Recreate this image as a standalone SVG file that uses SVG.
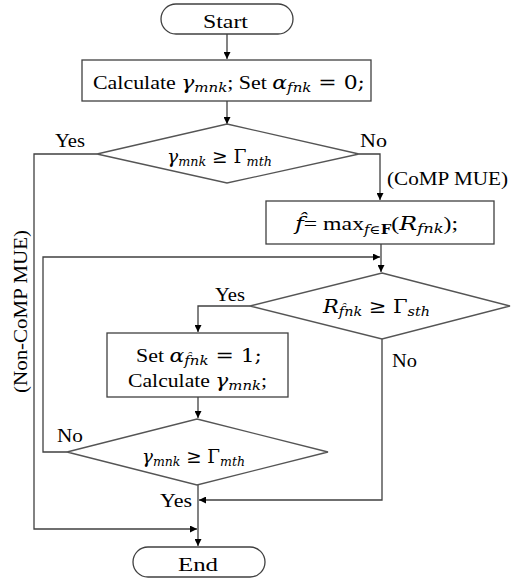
<svg xmlns="http://www.w3.org/2000/svg" width="511" height="580" viewBox="0 0 511 580">
<defs>
<marker id="arr" viewBox="0 0 10 10" refX="10" refY="5" markerWidth="7" markerHeight="7" markerUnits="userSpaceOnUse" orient="auto">
<path d="M0,0 L10,5 L0,10 z" fill="#000"/>
</marker>
<style>
.shape{fill:#fff;stroke:#404040;stroke-width:1.3}
.dia{fill:#fff;stroke:#555;stroke-width:1.3}
.conn{fill:none;stroke:#404040;stroke-width:1.3}
.txt{font-family:'Liberation Serif','Times New Roman',Tinos,'Nimbus Roman','DejaVu Serif',serif;fill:#000}
.t{font-size:19px}
.m{font-size:19px}
.mi{font-family:'DejaVu Serif',serif;font-style:italic}
.mr{font-family:'DejaVu Serif',serif}
.sub{font-size:13px}
.lab{font-size:19px}
</style>
</defs>
<rect width="511" height="580" fill="#fff"/>

<g id="connectors">
<path class="conn" d="M227,34 V59" marker-end="url(#arr)"/>
<path class="conn" d="M227,101 V124" marker-end="url(#arr)"/>
<path class="conn" d="M97,154 H34 V529 H197" marker-end="url(#arr)"/>
<path class="conn" d="M359,154 H380 V200" marker-end="url(#arr)"/>
<path class="conn" d="M381,244 V272" marker-end="url(#arr)"/>
<path class="conn" d="M67,452 H43 V257 H380" marker-end="url(#arr)"/>
<path class="conn" d="M250,306 H198 V332" marker-end="url(#arr)"/>
<path class="conn" d="M198,397 V418" marker-end="url(#arr)"/>
<path class="conn" d="M382,339 V500 H199" marker-end="url(#arr)"/>
<path class="conn" d="M198,485 V546" marker-end="url(#arr)"/>
</g>

<g class="txt">
<g id="start">
<rect class="shape" x="161" y="4" width="132" height="30" rx="15" ry="15"/>
<text class="t" x="203" y="28" textLength="45" lengthAdjust="spacingAndGlyphs">Start</text>
</g>

<g id="init">
<rect class="shape" x="82" y="60" width="289" height="41"/>
<text class="m" x="93" y="89" textLength="272" lengthAdjust="spacingAndGlyphs">Calculate <tspan class="mi">γ</tspan><tspan class="mi sub" dy="3">mnk</tspan><tspan dy="-3">; Set </tspan><tspan class="mi">α</tspan><tspan class="mi sub" dy="3">fnk</tspan><tspan class="mr" dy="-3"> = 0;</tspan></text>
</g>

<g id="decision1">
<polygon class="dia" points="227,124 359,154 227,183 97,154"/>
<text class="m" x="167" y="163" textLength="105" lengthAdjust="spacingAndGlyphs"><tspan class="mi">γ</tspan><tspan class="mi sub" dy="3">mnk</tspan><tspan class="mr" dy="-3"> ≥ Γ</tspan><tspan class="mi sub" dy="3">mth</tspan></text>
</g>

<g id="select">
<rect class="shape" x="266" y="201" width="228" height="43"/>
<text class="m" x="295" y="230" textLength="163" lengthAdjust="spacingAndGlyphs"><tspan class="mi">f̂</tspan>= max<tspan class="mi" font-size="12" dy="4">f</tspan><tspan class="mr" font-size="12">∈</tspan><tspan class="mr" font-size="12" font-weight="bold">F</tspan><tspan dy="-4">(</tspan><tspan class="mi">R</tspan><tspan class="mi sub" dy="3">fnk</tspan><tspan dy="-3">);</tspan></text>
</g>

<g id="decision2">
<polygon class="dia" points="382,273 510,306 382,339 250,306"/>
<text class="m" x="323" y="313" textLength="107" lengthAdjust="spacingAndGlyphs"><tspan class="mi">R</tspan><tspan class="mi sub" dy="3">f̂nk</tspan><tspan class="mr" dy="-3"> ≥ Γ</tspan><tspan class="mi sub" dy="3">sth</tspan></text>
</g>

<g id="assign">
<rect class="shape" x="107" y="333" width="181" height="64"/>
<text class="m" x="136" y="362" textLength="126" lengthAdjust="spacingAndGlyphs">Set <tspan class="mi">α</tspan><tspan class="mi sub" dy="3">f̂nk</tspan><tspan class="mr" dy="-3"> = 1;</tspan></text>
<text class="m" x="128" y="387" textLength="139" lengthAdjust="spacingAndGlyphs">Calculate <tspan class="mi">γ</tspan><tspan class="mi sub" dy="3">mnk</tspan><tspan dy="-3">;</tspan></text>
</g>

<g id="decision3">
<polygon class="dia" points="197,419 328,452 197,485 67,452"/>
<text class="m" x="142" y="463" textLength="103" lengthAdjust="spacingAndGlyphs"><tspan class="mi">γ</tspan><tspan class="mi sub" dy="3">mnk</tspan><tspan class="mr" dy="-3"> ≥ Γ</tspan><tspan class="mi sub" dy="3">mth</tspan></text>
</g>

<g id="end">
<rect class="shape" x="133" y="547" width="132" height="30" rx="15" ry="15"/>
<text class="t" x="178" y="571" textLength="40" lengthAdjust="spacingAndGlyphs">End</text>
</g>

<g id="labels">
<text class="lab" x="55" y="147" textLength="30" lengthAdjust="spacingAndGlyphs">Yes</text>
<text class="lab" x="360" y="147" textLength="27" lengthAdjust="spacingAndGlyphs">No</text>
<text class="lab" x="387" y="185" textLength="121" lengthAdjust="spacingAndGlyphs">(CoMP MUE)</text>
<text class="lab" x="215" y="301" textLength="30" lengthAdjust="spacingAndGlyphs">Yes</text>
<text class="lab" x="392" y="367" textLength="25" lengthAdjust="spacingAndGlyphs">No</text>
<text class="lab" x="57" y="442" textLength="26" lengthAdjust="spacingAndGlyphs">No</text>
<text class="lab" x="160" y="507" textLength="32" lengthAdjust="spacingAndGlyphs">Yes</text>
<text class="lab" transform="translate(27,393) rotate(-90)" textLength="163" lengthAdjust="spacingAndGlyphs">(Non-CoMP MUE)</text>
</g>
</g>
</svg>
